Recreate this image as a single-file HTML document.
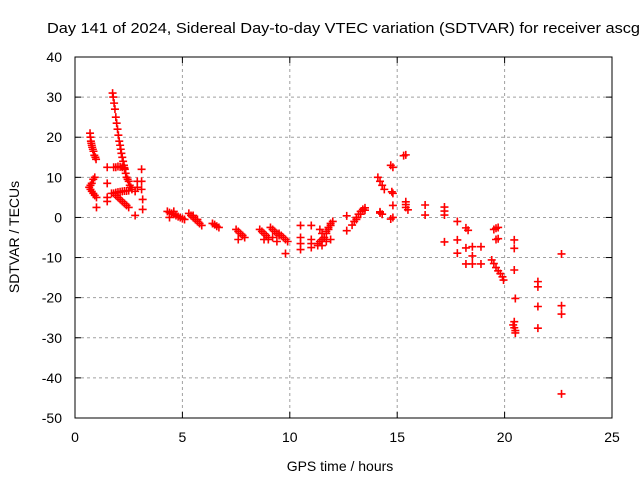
<!DOCTYPE html>
<html><head><meta charset="utf-8"><style>
body{margin:0;background:#fff}
svg{display:block;font-family:"Liberation Sans",sans-serif}
</style></head><body>
<svg id="c" width="640" height="480">
<text x="47" y="33" font-size="15" textLength="593" lengthAdjust="spacingAndGlyphs">Day 141 of 2024, Sidereal Day-to-day VTEC variation (SDTVAR) for receiver ascg</text>
<text x="340" y="471" font-size="14" text-anchor="middle">GPS time / hours</text>
<text transform="translate(19,237) rotate(-90)" font-size="14" text-anchor="middle">SDTVAR / TECUs</text>
<g id="grid"></g><g id="pts"></g>
<rect x="75" y="57" width="537" height="361" fill="none" stroke="#000" stroke-width="1"/>
</svg>
<script>
const xTicks=[0,5,10,15,20,25];
const yTicks=[40,30,20,10,0,-10,-20,-30,-40,-50];
const hours=[0.70,0.72,0.74,0.76,0.78,0.80,0.83,0.86,0.90,0.95,0.98,
0.92,0.85,0.78,0.72,0.66,0.72,0.78,0.85,0.92,1.0,
1.75,1.78,1.82,1.86,1.90,1.94,1.98,2.02,2.06,2.10,2.13,2.16,2.20,2.24,2.28,2.32,2.36,2.40,2.45,2.50,2.55,2.60,2.65,
1.80,1.9,2.0,2.1,2.2,2.3,1.7,1.8,1.9,2.0,2.1,2.2,2.3,2.4,2.5,1.9,2.0,2.1,2.2,2.3,2.4,2.5,
1.5,1.0,1.5,1.5,1.5,2.8,2.8,3.1,3.1,3.1,3.15,3.15,2.9,2.9,
4.3,4.4,4.5,4.6,4.7,4.8,4.9,5.0,5.1,4.4,4.6,
5.3,5.4,5.5,5.6,5.7,5.8,5.9,5.5,5.7,
6.4,6.5,6.6,6.7,
7.5,7.6,7.7,7.8,7.9,7.6,7.8,
8.6,8.7,8.8,8.9,9.0,9.1,9.2,9.3,9.4,9.5,8.8,9.0,9.2,9.4,
9.5,9.6,9.7,9.8,9.9,9.8,
10.5,10.5,10.5,10.5,11.0,11.0,11.0,11.0,
11.3,11.4,11.5,11.6,11.7,11.8,11.9,12.0,11.4,11.5,11.6,11.7,11.8,11.9,11.3,11.5,11.7,11.9,
12.65,12.65,12.9,13.0,13.1,13.2,13.3,13.4,13.5,13.1,13.3,13.5,
14.1,14.2,14.3,14.4,14.2,14.3,14.2,14.7,14.8,14.75,14.8,15.3,15.4,14.7,14.8,14.8,15.4,15.4,15.4,15.5,
16.3,16.3,17.2,17.2,17.2,
17.8,18.2,18.3,17.2,17.8,17.8,18.2,18.5,18.9,18.2,18.5,18.9,18.5,
19.5,19.6,19.7,19.6,19.7,19.4,19.5,19.6,19.7,19.8,19.9,19.95,
20.45,20.45,20.45,20.5,20.45,20.4,20.45,20.5,20.5,
21.55,21.55,21.55,21.55,22.65,22.65,22.65,22.65];
const tecu=[21,20,19,18.5,18,17.5,17,16.5,15.5,15,14.5,
10,9.5,8.5,8,7.5,7,6.5,6,5.5,5,
31,30,28.5,27,25,23.5,22,20.5,19,18,17,16,15,14,13,12,11,10,9.5,9,8,7.5,7,
12.5,12.5,12.7,12.6,12.5,12.4,6,6,6.2,6.3,6.4,6.5,6.6,6.6,6.7,5.5,5,4.5,4,3.5,3,2.5,
12.5,2.5,4,5,8.5,6.5,0.5,12,9,7,4.5,2,9,7.5,
1.5,1.2,1,0.8,0.5,0.2,0,-0.3,-0.5,0,1.5,
1,0.5,0,-0.5,-1,-1.5,-2,0.5,-0.5,
-1.5,-1.8,-2.2,-2.5,
-3,-3.5,-4,-4.5,-5,-5.5,-4.5,
-3,-3.5,-4,-4.5,-5,-2.5,-3,-3.5,-4,-4.5,-5.5,-5.5,-5,-6,
-4,-4.5,-5,-5.5,-6,-9,
-2,-5,-6.5,-8,-2,-5.5,-7.5,-6.5,
-6.5,-6,-5.5,-5,-4,-3,-2,-1,-3,-4,-5,-3.5,-2.5,-1.5,-7,-7,-6,-5.5,
0.4,-3.3,-1.9,-1,0,0.8,1.5,2,2.4,-0.5,0.8,1.8,
10,9,8,7,1.1,0.8,1.4,13,12.5,6.4,6,15.4,15.6,-0.4,0,3,3.9,3.2,2.5,1.9,
3.1,0.6,2.6,1.6,0.6,
-1,-2.6,-3.2,-6.1,-5.6,-8.9,-7.6,-7.3,-7.3,-11.6,-11.6,-11.6,-9.6,
-3,-2.7,-2.5,-5.5,-5.3,-10.6,-11.5,-12.5,-13.3,-14,-14.8,-15.6,
-5.6,-7.7,-13.1,-20.2,-26,-26.8,-27.5,-28.2,-28.8,
-16,-17.3,-22.2,-27.6,-9.1,-22,-24.1,-44];
const X0=75,X1=612,Y0=418,Y1=57;
function sx(v){return X0+(v-0)/(25-0)*(X1-X0);}
function sy(v){return Y0-(v+50)/(90)*(Y0-Y1);}
const NS="http://www.w3.org/2000/svg";
const g=document.getElementById('grid'),p=document.getElementById('pts');
function mk(t,a,parent){const e=document.createElementNS(NS,t);for(const k in a)e.setAttribute(k,a[k]);parent.appendChild(e);return e;}
xTicks.forEach(v=>{const x=sx(v);
 if(v>0&&v<25){const l=mk('line',{x1:x,x2:x,y1:Y1,y2:Y0,stroke:'#a0a0a0','stroke-dasharray':'3,3'},g);
 
 }
 mk('line',{x1:x,x2:x,y1:Y0,y2:Y0-6,stroke:'#000'},g);mk('line',{x1:x,x2:x,y1:Y1,y2:Y1+6,stroke:'#000'},g);
 const t=mk('text',{x:x,y:442,'font-size':14,'text-anchor':'middle'},g);t.textContent=v;
 
 });
yTicks.forEach(v=>{const y=sy(v);
 if(v>-50&&v<40){const l=mk('line',{x1:X0,x2:X1,y1:y,y2:y,stroke:'#a0a0a0','stroke-dasharray':'3,3'},g);
 
 }
 mk('line',{x1:X0,x2:X0+6,y1:y,y2:y,stroke:'#000'},g);mk('line',{x1:X1,x2:X1-6,y1:y,y2:y,stroke:'#000'},g);
 const t=mk('text',{x:62,y:y+5,'font-size':14,'text-anchor':'end'},g);t.textContent=v;
 
 });
hours.forEach((h,i)=>{const x=sx(h),y=sy(tecu[i]);
 const e=mk('path',{d:`M${x-4},${y}H${x+4}M${x},${y-4}V${y+4}`,stroke:'#f00','stroke-width':1.6,fill:'none'},p);
 
 });
</script>
</body></html>
